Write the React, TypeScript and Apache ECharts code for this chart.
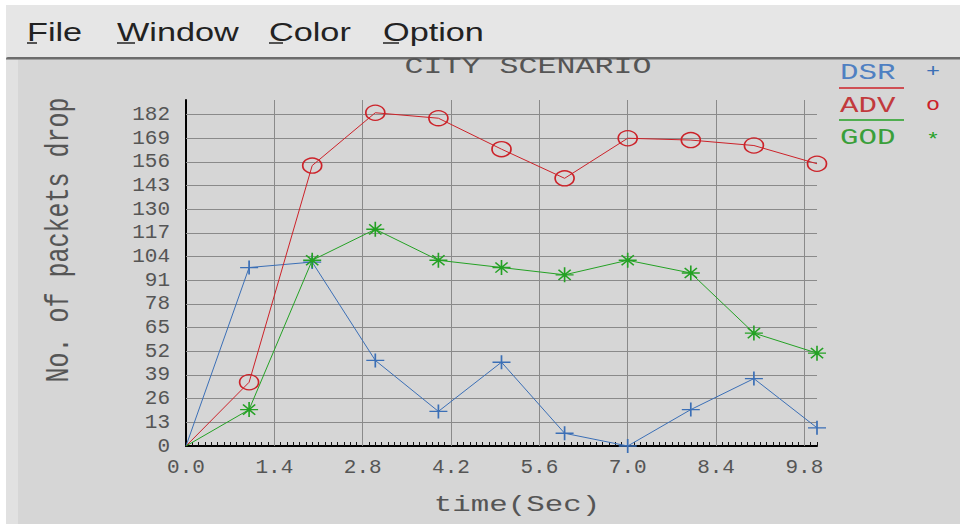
import React, { useEffect, useRef } from 'react';
import * as echarts from 'echarts';

// ---- data ----
const times = [0, 1, 2, 3, 4, 5, 6, 7, 8, 9, 10];
const dsr = [0, 98, 101, 47, 19, 46, 7, 0, 20, 37, 10];
const adv = [0, 35, 154, 183, 180, 163, 147, 169, 168, 165, 155];
const god = [0, 20, 102, 119, 102, 98, 94, 102, 95, 62, 51];

const yTicks = [0, 13, 26, 39, 52, 65, 78, 91, 104, 117, 130, 143, 156, 169, 182];
const xTicks = [0, 1.4, 2.8, 4.2, 5.6, 7.0, 8.4, 9.8];
const menuItems = ['File', 'Window', 'Color', 'Option'];
const legendNames = ['DSR', 'ADV', 'GOD'];
const legendMarks = ['+', 'o', '*'];

const BLUE = '#3b6fb6';
const RED = '#cc2229';
const GREEN = '#24a124';
const MONO = "'Liberation Mono', 'Courier New', monospace";
const SANS = "'Liberation Sans', Arial, sans-serif";
const TXT = '#555555';

const PLUS = 'path://M0,5L10,5M5,0L5,10';
const STAR = 'path://M0,5L10,5M5,0L5,10M1.6,1.6L8.4,8.4M8.4,1.6L1.6,8.4';

const pairs = (ys: number[]) =>
  times.map((t, i) => (t === 0 ? { value: [t, ys[i]], symbol: 'none' } : [t, ys[i]]));

export default function App() {
  const ref = useRef<HTMLDivElement>(null);

  useEffect(() => {
    if (!ref.current) return;
    const chart = echarts.init(ref.current, null, { renderer: 'svg' });

    const menuX = [27, 117, 269, 383];
    const menuUnder = [10, 18, 14, 16];
    const legendColors = [BLUE, RED, GREEN];
    const legendTextColors = ['#4f80c2', '#c23a3d', '#3a9f3a'];
    const legendY = [72, 105, 137];

    const graphics: any[] = [
      { type: 'rect', shape: { x: 0, y: 0, width: 960, height: 5 }, style: { fill: '#ffffff' }, z: 1 },
      { type: 'rect', shape: { x: 0, y: 0, width: 6, height: 524 }, style: { fill: '#ffffff' }, z: 1 },
      { type: 'rect', shape: { x: 6, y: 5, width: 954, height: 52 }, style: { fill: '#e6e6e6' }, z: 1 },
      { type: 'rect', shape: { x: 6, y: 57, width: 954, height: 2.5, r: [2, 0, 0, 0] }, style: { fill: '#6c6c6c' }, z: 2 },
      { type: 'rect', shape: { x: 6, y: 59.5, width: 12, height: 465 }, style: { fill: '#e1e1e1' }, z: 1 },
      {
        type: 'text', x: 528, y: 67, scaleX: 1.44, z: 3,
        style: { text: 'CITY SCENARIO', font: `22px ${MONO}`, fill: TXT, textAlign: 'center', textVerticalAlign: 'middle' },
      },
      {
        type: 'text', x: 517, y: 505, scaleX: 1.4, z: 3,
        style: { text: 'time(Sec)', font: `22px ${MONO}`, fill: TXT, textAlign: 'center', textVerticalAlign: 'middle' },
      },
      {
        type: 'text', x: 60, y: 240, rotation: Math.PI / 2, scaleY: 1.3, z: 3,
        style: { text: 'No. of packets drop', font: `25px ${MONO}`, fill: TXT, textAlign: 'center', textVerticalAlign: 'middle' },
      },
    ];

    menuItems.forEach((m, i) => {
      graphics.push({
        type: 'text', x: menuX[i], y: 32, scaleX: 1.37, z: 3,
        style: { text: m, font: `25px ${SANS}`, fill: '#222222', textAlign: 'left', textVerticalAlign: 'middle' },
      });
      graphics.push({
        type: 'line', z: 3,
        shape: { x1: menuX[i], y1: 43, x2: menuX[i] + menuUnder[i], y2: 43 },
        style: { stroke: '#222222', lineWidth: 1.5 },
      });
    });

    legendNames.forEach((n, i) => {
      graphics.push({
        type: 'text', x: 840, y: legendY[i] + 1, scaleX: 1.4, z: 3,
        style: { text: n, font: `22px ${MONO}`, fill: legendTextColors[i], textAlign: 'left', textVerticalAlign: 'middle' },
      });
      graphics.push({
        type: 'text', x: 933, y: legendY[i] + (i === 2 ? 3 : 0), scaleX: 1.3, z: 3,
        style: { text: legendMarks[i], font: `18px ${MONO}`, fill: legendColors[i], textAlign: 'center', textVerticalAlign: 'middle' },
      });
      if (i > 0) {
        graphics.push({
          type: 'line', z: 3,
          shape: { x1: 839, y1: legendY[i] - 17, x2: 904, y2: legendY[i] - 17 },
          style: { stroke: legendColors[i], lineWidth: 1.5 },
        });
      }
    });

    const gridLines = [
      ...yTicks.slice(1).map((v) => ({ yAxis: v })),
      ...xTicks.slice(1).map((v) => ({ xAxis: v })),
    ];

    const mkSeries = (name: string, ys: number[], color: string, symbol: string, size: number[]) => ({
      type: 'line',
      name,
      data: pairs(ys),
      symbol,
      symbolSize: size,
      showSymbol: true,
      clip: true,
      z: 3,
      lineStyle: { color, width: 1 },
      itemStyle: { color: 'rgba(0,0,0,0)', borderColor: color, borderWidth: 1.5 },
      emphasis: { disabled: true },
    });

    chart.setOption({
      animation: false,
      backgroundColor: '#d6d6d6',
      grid: { left: 186, right: 143, top: 100, bottom: 78, containLabel: false },
      xAxis: [
        {
          type: 'value', min: 0, max: 10, interval: 1.4,
          axisLine: { show: true, lineStyle: { color: '#000', width: 2 } },
          axisTick: { show: true, inside: true, length: 7, lineStyle: { color: '#000', width: 1 } },
          axisLabel: {
            show: true, showMaxLabel: false, margin: 11, color: TXT,
            fontFamily: MONO, fontSize: 21,
            formatter: (v: number) => v.toFixed(1),
          },
          splitLine: { show: false },
        },
        {
          type: 'value', min: 0, max: 10, interval: 0.1, position: 'bottom', offset: 0,
          axisLine: { show: false },
          axisTick: { show: true, inside: true, length: 4, lineStyle: { color: '#111', width: 1 } },
          axisLabel: { show: false },
          splitLine: { show: false },
        },
      ],
      yAxis: {
        type: 'value', min: 0, max: 190, interval: 13,
        axisLine: { show: true, lineStyle: { color: '#000', width: 2 } },
        axisTick: { show: true, inside: true, length: 9, lineStyle: { color: '#000', width: 1 } },
        axisLabel: {
          show: true, showMaxLabel: false, margin: 16, color: TXT,
          fontFamily: MONO, fontSize: 21,
        },
        splitLine: { show: false },
      },
      graphic: graphics,
      series: [
        {
          type: 'line',
          name: 'grid',
          data: [],
          silent: true,
          z: 1,
          markLine: {
            silent: true,
            z: 1,
            symbol: ['none', 'none'],
            label: { show: false },
            emphasis: { disabled: true },
            lineStyle: { color: '#8a8a8a', width: 1, type: 'solid' },
            data: gridLines,
          },
        },
        mkSeries('DSR', dsr, BLUE, PLUS, [18, 14]),
        mkSeries('ADV', adv, RED, 'circle', [19, 15]),
        mkSeries('GOD', god, GREEN, STAR, [18, 15]),
      ],
    });

    return () => chart.dispose();
  }, []);

  return (
    <div
      ref={ref}
      style={{ position: 'absolute', left: 0, top: 0, width: 960, height: 524 }}
    />
  );
}
